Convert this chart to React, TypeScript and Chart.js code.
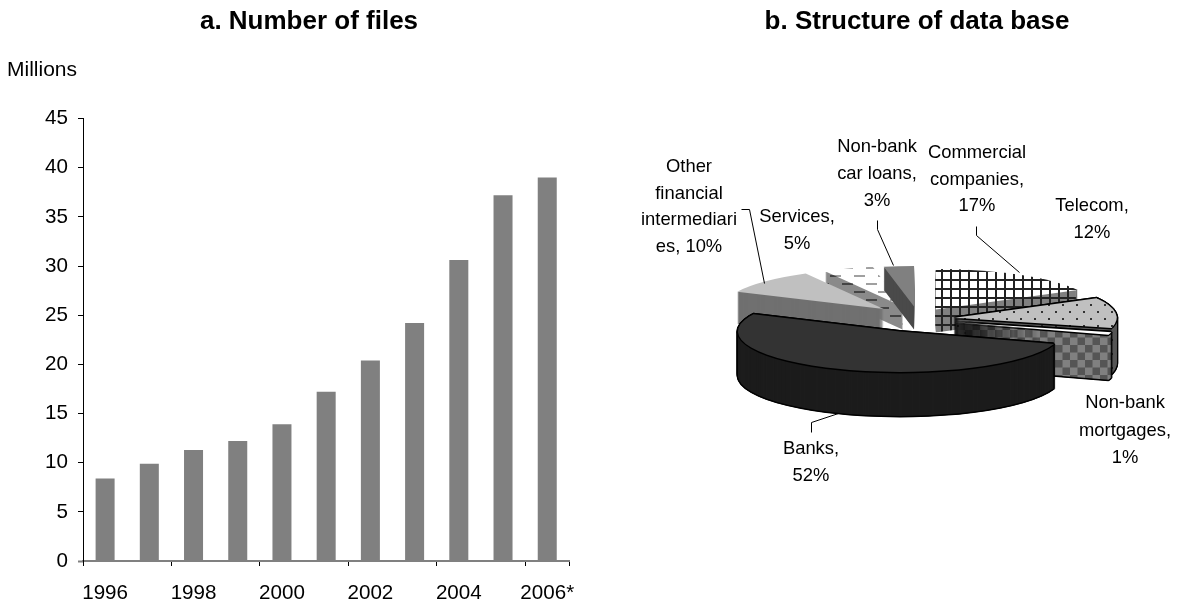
import React, { useEffect, useRef } from "react";
import { Chart, registerables } from "chart.js";

Chart.register(...registerables);

const years = ["1996", "1997", "1998", "1999", "2000", "2001", "2002", "2003", "2004", "2005", "2006*"];
const files = [8.4, 9.9, 11.3, 12.2, 13.9, 17.2, 20.4, 24.2, 30.6, 37.2, 39];

const sliceNames = ["Commercial companies", "Telecom", "Non-bank mortgages", "Banks", "Other financial intermediaries", "Services", "Non-bank car loans"];
const sliceShares = [17, 12, 1, 52, 10, 5, 3];

const labelLines = [
  ["Commercial", "companies,", "17%"],
  ["Telecom,", "12%"],
  ["Non-bank", "mortgages,", "1%"],
  ["Banks,", "52%"],
  ["Other", "financial", "intermediari", "es, 10%"],
  ["Services,", "5%"],
  ["Non-bank", "car loans,", "3%"],
];

const FONT = '"Liberation Sans", Arial, sans-serif';
const AXIS_PX = 20.6;
const LABEL_PX = 18.4;
const PIE_LEFT = 590;
const SQUASH = 0.25;

// label centre x, first-line centre y, line step
const labelSpots = [
  [977, 153, 26.5], [1092, 206, 27], [1125, 403, 27.5], [811, 449, 27], [689, 167, 26.7], [797, 217, 27], [877, 147, 27],
];
const leaders = [
  [[976, 226], [976, 235], [1019, 272]],
  null,
  null,
  [[811, 432], [811, 422], [838, 413]],
  [[741, 209], [749, 209], [764, 283]],
  null,
  [[877, 220], [877, 229], [893, 265]],
];

const sliceExplode = [35, 37, 38, 49, 47, 44, 42];
const sliceDepths = [23, 46, 45, 44, 32, 23, 23];
const sliceNudgeY = [0, 2, 2.5, 3, 0, 0, 0];
const outlined = [false, true, true, true, false, false, false];
const drawOrder = [5, 6, 0, 4, 1, 2, 3];

function tile(ctx: CanvasRenderingContext2D, w: number, h: number, paint: (c: CanvasRenderingContext2D) => void) {
  const c = document.createElement("canvas");
  c.width = w;
  c.height = h;
  paint(c.getContext("2d")!);
  return ctx.createPattern(c, "repeat")!;
}
function grid(ctx: CanvasRenderingContext2D, bg: string, line: string) {
  return tile(ctx, 9, 9, (c) => {
    c.fillStyle = bg; c.fillRect(0, 0, 9, 9);
    c.fillStyle = line; c.fillRect(0, 0, 2, 9); c.fillRect(0, 0, 9, 2);
  });
}
function dots(ctx: CanvasRenderingContext2D, bg: string, dot: string) {
  return tile(ctx, 14, 14, (c) => {
    c.fillStyle = bg; c.fillRect(0, 0, 14, 14);
    c.fillStyle = dot; c.fillRect(3, 3, 2, 2); c.fillRect(10, 10, 2, 2);
  });
}
function dashes(ctx: CanvasRenderingContext2D, bg: string, dash: string) {
  return tile(ctx, 24, 16, (c) => {
    c.fillStyle = bg; c.fillRect(0, 0, 24, 16);
    c.fillStyle = dash; c.fillRect(0, 3, 11, 2); c.fillRect(12, 11, 11, 2);
  });
}
function checker(ctx: CanvasRenderingContext2D, a: string, b: string) {
  return tile(ctx, 15, 15, (c) => {
    c.fillStyle = a; c.fillRect(0, 0, 15, 15);
    c.fillStyle = b; c.fillRect(0, 0, 7.5, 7.5); c.fillRect(7.5, 7.5, 7.5, 7.5);
  });
}

const pie3d = {
  id: "pie3d",
  beforeDatasetDraw(chart: any) {
    const ctx: CanvasRenderingContext2D = chart.ctx;
    const { left, right, top, bottom } = chart.chartArea;
    const cx = (left + right) / 2;
    const cy = (top + bottom) / 2;
    const arcs = chart.getDatasetMeta(0).data;
    const tops: any[] = [
      grid(ctx, "#ffffff", "#222222"),
      dots(ctx, "#c0c0c0", "#333333"),
      "#ffffff",
      "#333333",
      "#c0c0c0",
      dashes(ctx, "#ffffff", "#a0a0a0"),
      "#808080",
    ];
    const walls: any[] = [
      grid(ctx, "#808080", "#222222"),
      dots(ctx, "#555555", "#222222"),
      checker(ctx, "#808080", "#555555"),
      "#1c1c1c",
      "#707070",
      dashes(ctx, "#8a8a8a", "#444444"),
      "#4a4a4a",
    ];
    const paint = (i: number, dx: number, dy: number, fill: any) => {
      const arc = arcs[i];
      const mid = (arc.startAngle + arc.endAngle) / 2;
      const e = sliceExplode[i];
      ctx.save();
      ctx.translate(cx + dx, cy + dy);
      ctx.scale(1, SQUASH);
      ctx.translate(-cx + Math.cos(mid) * e, -cy + Math.sin(mid) * e);
      if (typeof fill !== "string") fill.setTransform(ctx.getTransform().inverse());
      const saved = arc.options;
      arc.options = { ...saved, backgroundColor: fill, borderWidth: 0 };
      arc.draw(ctx);
      arc.options = saved;
      ctx.restore();
    };
    for (const i of drawOrder) {
      const depth = sliceDepths[i];
      const n = sliceNudgeY[i];
      if (outlined[i]) {
        for (let d = depth; d >= 0; d -= 1) {
          for (const [ox, oy] of [[-1.5, 0], [1.5, 0], [0, -1.5], [0, 1.5], [-1, -1], [1, -1], [-1, 1], [1, 1]]) {
            paint(i, ox, n + d + oy, "#000000");
          }
        }
      }
      for (let d = depth; d > 0; d -= 1) paint(i, 0, n + d, walls[i]);
      if (outlined[i]) {
        for (const [ox, oy] of [[-1.5, 0], [1.5, 0], [0, -1.5], [0, 1.5]]) paint(i, ox, n + oy, "#000000");
      }
      paint(i, 0, n, tops[i]);
    }
    return false;
  },
  afterDraw(chart: any) {
    const ctx: CanvasRenderingContext2D = chart.ctx;
    ctx.save();
    ctx.fillStyle = "#000000";
    ctx.strokeStyle = "#000000";
    ctx.lineWidth = 1;
    ctx.font = `${LABEL_PX}px ${FONT}`;
    ctx.textAlign = "center";
    ctx.textBaseline = "middle";
    labelLines.forEach((lines, i) => {
      const [x, y, step] = labelSpots[i];
      lines.forEach((t, k) => ctx.fillText(t, x - PIE_LEFT, y + k * step));
      const l = leaders[i];
      if (l) {
        ctx.beginPath();
        l.forEach(([lx, ly], k) => (k ? ctx.lineTo(lx - PIE_LEFT + 0.5, ly + 0.5) : ctx.moveTo(lx - PIE_LEFT + 0.5, ly + 0.5)));
        ctx.stroke();
      }
    });
    ctx.restore();
  },
};

export default function App() {
  const barRef = useRef<HTMLCanvasElement>(null);
  const pieRef = useRef<HTMLCanvasElement>(null);

  useEffect(() => {
    const bar = new Chart(barRef.current!, {
      type: "bar",
      data: {
        labels: years,
        datasets: [{ data: files, backgroundColor: "#808080", barPercentage: 0.43, categoryPercentage: 1 }],
      },
      options: {
        responsive: false,
        animation: false,
        layout: { padding: { top: 118.5, right: 18.5, left: 0, bottom: 0 } },
        plugins: { legend: { display: false }, tooltip: { enabled: false } },
        scales: {
          x: {
            afterFit: (s: any) => { s.height = 46; },
            grid: {
              offset: true,
              drawOnChartArea: false,
              tickLength: 5,
              tickColor: (c: any) => (c.index % 2 ? "rgba(0,0,0,0)" : "#000000"),
              tickWidth: 1,
            },
            border: { color: "#808080", width: 2 },
            ticks: {
              autoSkip: false,
              maxRotation: 0,
              padding: 15,
              color: "#000000",
              font: { family: FONT, size: AXIS_PX },
              callback: (_v: any, i: number) => (i % 2 ? "" : years[i]),
            },
          },
          y: {
            min: 0,
            max: 45,
            afterFit: (s: any) => { s.width = 83; },
            grid: {
              drawOnChartArea: false,
              tickLength: 5,
              tickColor: (c: any) => (c.tick && c.tick.value === 0 ? "#808080" : "#000000"),
              tickWidth: (c: any) => (c.tick && c.tick.value === 0 ? 2 : 1),
            },
            border: { color: "#000000", width: 1 },
            ticks: { stepSize: 5, padding: 10, color: "#000000", font: { family: FONT, size: AXIS_PX } },
          },
        },
      },
    } as any);

    const pie = new Chart(pieRef.current!, {
      type: "pie",
      data: {
        labels: sliceNames,
        datasets: [{ data: sliceShares, borderWidth: 0, backgroundColor: "#808080" }],
      },
      options: {
        responsive: false,
        animation: false,
        layout: { padding: { left: 166, right: 97, top: 155, bottom: 128 } },
        plugins: { legend: { display: false }, tooltip: { enabled: false } },
      },
      plugins: [pie3d],
    } as any);

    return () => {
      bar.destroy();
      pie.destroy();
    };
  }, []);

  const text = { position: "absolute", color: "#000", fontFamily: FONT, whiteSpace: "nowrap" } as React.CSSProperties;
  return (
    <div style={{ position: "fixed", left: 0, top: 0, width: 1177, height: 607, background: "#fff", overflow: "hidden" }}>
      <canvas ref={barRef} width={590} height={607} style={{ position: "absolute", left: 0, top: 0, display: "block" }} />
      <canvas ref={pieRef} width={587} height={607} style={{ position: "absolute", left: PIE_LEFT, top: 0, display: "block" }} />
      <div style={{ ...text, left: 109, width: 400, top: 5, textAlign: "center", fontWeight: 700, fontSize: 26, lineHeight: "30px" }}>a. Number of files</div>
      <div style={{ ...text, left: 717, width: 400, top: 5, textAlign: "center", fontWeight: 700, fontSize: 26, lineHeight: "30px" }}>b. Structure of data base</div>
      <div style={{ ...text, left: 7, top: 56, fontSize: 21, lineHeight: "26px" }}>Millions</div>
    </div>
  );
}
